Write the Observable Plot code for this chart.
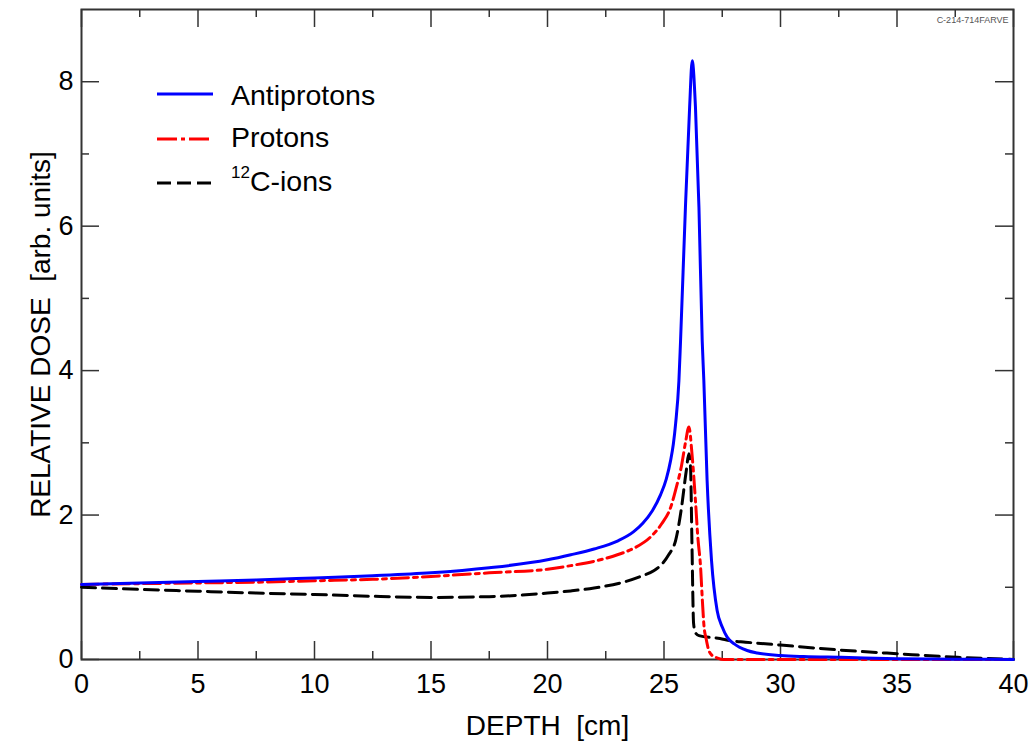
<!DOCTYPE html>
<html><head><meta charset="utf-8">
<script src="https://cdn.jsdelivr.net/npm/d3@7"></script>
<script src="https://cdn.jsdelivr.net/npm/@observablehq/plot@0.6"></script>
<style>
body{margin:0;background:#fff;font-family:"Liberation Sans",Arial,Helvetica,sans-serif;}
#wrap{position:relative;width:1030px;height:742px;}
#legend{position:absolute;left:0;top:0;pointer-events:none;}
</style></head><body><div id="wrap"></div>
<script>
// ---- data ----
const antiDepth = [0,2.5,5,7.5,10,12.5,15,17.5,20,21,22,23,23.7,24.1,24.5,24.85,25.1,25.28,25.4,25.5,25.64,25.71,25.92,26.1,26.21,26.35,26.5,26.64,26.71,26.85,27.04,27.28,27.5,27.71,28,28.57,29,30,31,32.6,35,37.5,40];
const antiDose  = [1.04,1.06,1.08,1.1,1.13,1.16,1.2,1.27,1.38,1.45,1.53,1.64,1.77,1.89,2.06,2.28,2.5,2.75,2.98,3.27,3.86,4.41,6.26,7.65,8.29,7.65,6.26,4.41,3.86,2.48,1.37,0.68,0.45,0.31,0.22,0.125,0.09,0.055,0.04,0.03,0.012,0.005,0];

const protDepth = [0,2.5,5,7.5,10,12.5,15,17.5,20,21,22,23,23.7,24.4,24.9,25.3,25.5,25.75,25.92,26.07,26.2,26.35,26.45,26.57,26.65,26.72,26.8,26.9,27.05,27.3,27.55,30,35,40];
const protDose  = [1.04,1.05,1.06,1.07,1.09,1.11,1.15,1.2,1.25,1.3,1.36,1.45,1.54,1.69,1.88,2.12,2.35,2.68,3.0,3.22,2.85,2.2,1.7,1.28,0.8,0.45,0.3,0.15,0.06,0.02,0,0,0,0];

const carbDepth = [0,2.5,5,7.5,10,12.5,15,17.5,20,21,22,23.13,24,24.56,24.85,25.2,25.5,25.75,25.95,26.07,26.14,26.2,26.27,26.35,26.5,27.4,27.85,28.5,30,32.6,35,37.6,40];
const carbDose  = [1.0,0.97,0.945,0.92,0.9,0.875,0.86,0.87,0.92,0.95,0.99,1.06,1.15,1.23,1.3,1.45,1.65,2.1,2.6,2.85,2.65,1.6,0.5,0.37,0.33,0.29,0.26,0.24,0.2,0.13,0.08,0.03,0];

const xMajor = [0,5,10,15,20,25,30,35,40];
const xMinor = [2.5,7.5,12.5,17.5,22.5,27.5,32.5,37.5];
const yMajor = [0,2,4,6,8];
const yMinor = [1,3,5,7];

const seriesNames = ["Antiprotons","Protons","C-ions"];
const xLabel = "DEPTH\u00a0 [cm]";
const yLabel = "RELATIVE DOSE\u00a0 [arb. units]";
const stamp = "C-214-714FARVE";

// ---- layout ----
const W = 1030, H = 742;
const mL = 81, mR = 17, mT = 9, mB = 83;
const innerW = W - mL - mR, innerH = H - mT - mB;
const axisColor = "#333";
const font = "'Liberation Sans', Arial, Helvetica, sans-serif";

const toRows = (xs, ys) => xs.map((x, i) => ({x, y: ys[i]}));

const tickOpts = {stroke: axisColor, strokeOpacity: 1, strokeWidth: 1.5};

const chart = Plot.plot({
  width: W, height: H,
  marginLeft: mL, marginRight: mR, marginTop: mT, marginBottom: mB,
  x: {domain: [0, 40]},
  y: {domain: [0, 9]},
  style: {fontFamily: font, background: "white", color: "black"},
  marks: [
    Plot.axisX(xMajor, {tickSize: 0, tickPadding: 14, fontSize: 27, label: null, fill: "black", tickFormat: d => String(d)}),
    Plot.axisY(yMajor, {tickSize: 0, tickPadding: 8, fontSize: 27, label: null, fill: "black", tickFormat: d => String(d)}),
    // inward ticks on all four sides
    Plot.gridX(xMajor, {...tickOpts, insetTop: innerH - 18}),
    Plot.gridX(xMajor, {...tickOpts, insetBottom: innerH - 18}),
    Plot.gridX(xMinor, {...tickOpts, insetTop: innerH - 8}),
    Plot.gridX(xMinor, {...tickOpts, insetBottom: innerH - 8}),
    Plot.gridY(yMajor, {...tickOpts, insetRight: innerW - 18}),
    Plot.gridY(yMajor, {...tickOpts, insetLeft: innerW - 18}),
    Plot.gridY(yMinor, {...tickOpts, insetRight: innerW - 8}),
    Plot.gridY(yMinor, {...tickOpts, insetLeft: innerW - 8}),
    Plot.frame({stroke: axisColor, strokeWidth: 2}),
    Plot.line(toRows(carbDepth, carbDose), {x: "x", y: "y", stroke: "#000", strokeWidth: 3, strokeDasharray: "14,7", curve: "monotone-x"}),
    Plot.line(toRows(protDepth, protDose), {x: "x", y: "y", stroke: "#ff0000", strokeWidth: 3, strokeDasharray: "17,5,4,5", curve: "monotone-x"}),
    Plot.line(toRows(antiDepth, antiDose), {x: "x", y: "y", stroke: "#0000ff", strokeWidth: 3, curve: "monotone-x"}),
    Plot.text([xLabel], {frameAnchor: "bottom", textAnchor: "middle", lineAnchor: "middle", dy: 67, fontSize: 28, fill: "black"}),
    Plot.text([yLabel], {frameAnchor: "left", textAnchor: "middle", lineAnchor: "middle", dx: -40, rotate: -90, fontSize: 28, fill: "black"}),
    Plot.text([stamp], {frameAnchor: "top-right", textAnchor: "end", dx: -5, dy: 7, fontSize: 9, fill: "#555"})
  ]
});

const wrap = document.getElementById("wrap");
wrap.appendChild(chart);

// ---- legend (inside the plot area, top-left) ----
const legend = d3.select(wrap).append("svg").attr("id", "legend")
  .attr("width", W).attr("height", H)
  .style("font-family", font);
const items = [
  {name: seriesNames[0], color: "#0000ff", dash: null, ly: 94, ty: 105},
  {name: seriesNames[1], color: "#ff0000", dash: "20,4,4,4", ly: 139, ty: 147},
  {name: seriesNames[2], color: "#000", dash: "14,6", ly: 183, ty: 191, sup: "12"}
];
items.forEach(d => {
  legend.append("line").attr("x1", 157).attr("x2", 213).attr("y1", d.ly).attr("y2", d.ly)
    .attr("stroke", d.color).attr("stroke-width", 3).attr("stroke-dasharray", d.dash);
  const t = legend.append("text").attr("x", 231).attr("y", d.ty).attr("font-size", 28.5).attr("fill", "black");
  if (d.sup) {
    t.append("tspan").attr("font-size", 17).attr("dy", -13).text(d.sup);
    t.append("tspan").attr("dy", 13).text(d.name);
  } else {
    t.text(d.name);
  }
});
</script>
</body></html>
